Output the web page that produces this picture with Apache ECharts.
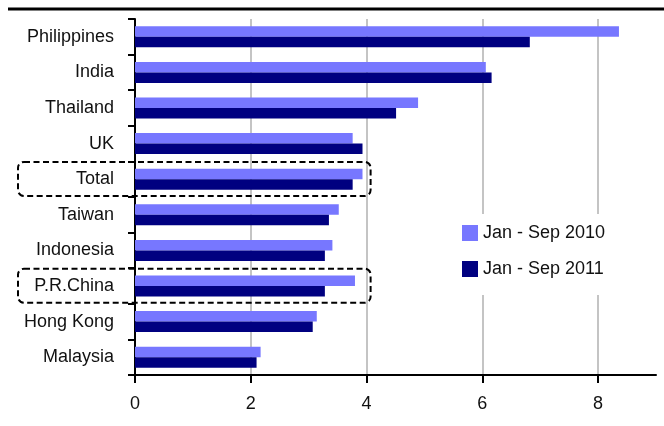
<!DOCTYPE html>
<html>
<head>
<meta charset="utf-8">
<script src="https://cdn.jsdelivr.net/npm/echarts@6/dist/echarts.min.js"></script>
<style>
  html, body { margin: 0; padding: 0; background: #fff; }
  #chart { width: 664px; height: 426px; }
</style>
</head>
<body>
<div id="chart"></div>
<script>
// Countries, top to bottom
const categories = ['Philippines', 'India', 'Thailand', 'UK', 'Total', 'Taiwan',
  'Indonesia', 'P.R.China', 'Hong Kong', 'Malaysia'];
// Values for each period
const values2010 = [8.36, 6.06, 4.89, 3.76, 3.93, 3.52, 3.41, 3.80, 3.14, 2.17];
const values2011 = [6.82, 6.16, 4.51, 3.93, 3.76, 3.35, 3.28, 3.28, 3.07, 2.10];
const seriesNames = ['Jan - Sep 2010', 'Jan - Sep 2011'];
const xTicks = [0, 2, 4, 6, 8];
// Rows outlined with a dashed box
const highlighted = ['Total', 'P.R.China'];

const FONT = '"Liberation Sans", Arial, sans-serif';
const chart = echarts.init(document.getElementById('chart'), null, { renderer: 'canvas' });

const option = {
  animation: false,
  backgroundColor: '#fff',
  grid: { left: 135, right: 8, top: 19, bottom: 51, containLabel: false },
  xAxis: {
    type: 'value',
    min: 0,
    max: 9,
    axisLine: { show: true, lineStyle: { color: '#000', width: 2 } },
    axisTick: { show: true, length: 8, customValues: xTicks, lineStyle: { color: '#000', width: 2 } },
    axisLabel: { customValues: xTicks, margin: 20, color: '#111', fontSize: 18, fontFamily: FONT },
    splitLine: { show: true, lineStyle: { color: '#c4c4c4', width: 2 } }
  },
  yAxis: {
    type: 'category',
    inverse: true,
    data: categories,
    axisLine: { show: true, lineStyle: { color: '#000', width: 2 } },
    axisTick: { show: true, length: 7, lineStyle: { color: '#000', width: 2 } },
    axisLabel: { margin: 21, color: '#111', fontSize: 18, fontFamily: FONT },
    splitLine: { show: false }
  },
  legend: {
    orient: 'vertical',
    left: 452,
    top: 214,
    padding: [10, 12, 17, 10],
    backgroundColor: '#fff',
    itemWidth: 16,
    itemHeight: 16,
    itemGap: 18,
    icon: 'rect',
    textStyle: { fontSize: 18, color: '#111', fontFamily: FONT, padding: [0, 0, 0, 0] },
    data: seriesNames
  },
  series: [
    {
      name: seriesNames[0],
      type: 'bar',
      data: values2010,
      barWidth: 10.5,
      barGap: '0%',
      itemStyle: { color: '#7777ff' }
    },
    {
      name: seriesNames[1],
      type: 'bar',
      data: values2011,
      barWidth: 10.5,
      barGap: '0%',
      itemStyle: { color: '#000080' }
    }
  ]
};
chart.setOption(option);

// Dashed rounded boxes around the highlighted rows, plus the rule across the top
const bandH = (chart.convertToPixel({ yAxisIndex: 0 }, categories[1]) -
  chart.convertToPixel({ yAxisIndex: 0 }, categories[0]));
const boxRight = chart.convertToPixel({ xAxisIndex: 0 }, 4.07);
const graphics = [{
  type: 'line',
  shape: { x1: 8, y1: 9, x2: 664, y2: 9 },
  style: { stroke: '#000', lineWidth: 3 },
  z: 100
}];
highlighted.forEach(function (name) {
  const cy = chart.convertToPixel({ yAxisIndex: 0 }, name);
  graphics.push({
    type: 'rect',
    shape: { x: 18, y: cy - bandH / 2 + 0.5, width: boxRight - 18, height: bandH - 1.5, r: 6 },
    style: { fill: null, stroke: '#000', lineWidth: 2, lineDash: [6, 3.5] },
    z: 100
  });
});
chart.setOption({ graphic: graphics });
</script>
</body>
</html>
